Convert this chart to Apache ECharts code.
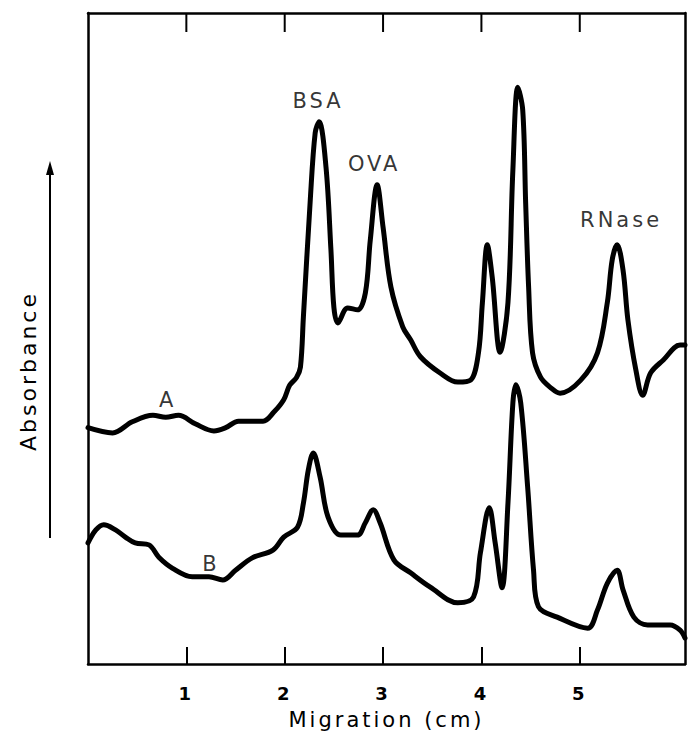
<!DOCTYPE html>
<html>
<head>
<meta charset="utf-8">
<script src="https://cdn.jsdelivr.net/npm/echarts@6/dist/echarts.min.js"></script>
<style>
  html, body { margin: 0; padding: 0; background: #fff; }
  #chart { width: 693px; height: 734px; }
  /* the scan's lettering is widely tracked */
  #chart text { letter-spacing: 3px; }
</style>
</head>
<body>
<div id="chart"></div>
<script>
// migration (cm) vs absorbance (arbitrary units)
var traceA = [
    [0, 36.3], [0.25, 35.5], [0.45, 37.2], [0.66, 38.2], [0.79, 37.9], [0.92, 38.2],
    [1.09, 36.9], [1.28, 35.8], [1.40, 36.3], [1.53, 37.3], [1.78, 37.3], [1.89, 38.7],
    [1.99, 40.6], [2.05, 42.8], [2.12, 44.0], [2.16, 45.6], [2.19, 53.3], [2.26, 71.3],
    [2.31, 81.6], [2.35, 83.3], [2.42, 76.3], [2.47, 63.6], [2.50, 54.8], [2.54, 52.4],
    [2.64, 54.7], [2.74, 54.4], [2.82, 57.0], [2.87, 65.1], [2.94, 73.6], [3.00, 67.1],
    [3.08, 57.9], [3.20, 51.8], [3.28, 49.8], [3.38, 47.2], [3.58, 44.7], [3.76, 43.3],
    [3.89, 43.6], [3.97, 47.8], [4.01, 55.5], [4.06, 64.4], [4.11, 59.4], [4.19, 47.9],
    [4.27, 55.5], [4.32, 75.9], [4.37, 88.6], [4.42, 85.1], [4.45, 70.8], [4.48, 57.9],
    [4.52, 47.8], [4.60, 44.1], [4.70, 42.5], [4.80, 41.6], [5.01, 43.6], [5.18, 47.8],
    [5.28, 55.5], [5.33, 62.1], [5.38, 64.4], [5.44, 60.5], [5.49, 52.8], [5.57, 45.2],
    [5.64, 41.3], [5.72, 44.7], [5.85, 46.7], [6.02, 49.0], [6.07, 49.0]
];
var traceB = [
    [0, 18.6], [0.08, 20.6], [0.16, 21.4], [0.28, 20.6], [0.38, 19.5], [0.48, 18.6],
    [0.62, 18.3], [0.72, 16.4], [0.86, 14.7], [1.06, 13.4], [1.23, 13.4], [1.37, 12.9],
    [1.50, 14.4], [1.67, 16.3], [1.88, 17.5], [1.99, 19.5], [2.13, 21.0], [2.19, 24.7],
    [2.24, 29.8], [2.29, 32.4], [2.36, 28.7], [2.44, 22.6], [2.57, 19.8], [2.74, 19.8],
    [2.82, 21.7], [2.90, 23.7], [2.97, 21.7], [3.11, 16.0], [3.28, 14.0], [3.48, 11.8],
    [3.76, 9.4], [3.92, 10.3], [3.99, 17.1], [4.08, 24.0], [4.14, 18.6], [4.21, 11.7],
    [4.27, 24.7], [4.32, 40.1], [4.35, 42.9], [4.40, 40.1], [4.47, 27.2], [4.53, 14.4],
    [4.58, 8.8], [4.77, 7.2], [5.08, 5.5], [5.18, 8.3], [5.28, 12.4], [5.38, 14.4],
    [5.44, 11.4], [5.55, 7.2], [5.69, 6.0], [5.92, 6.0], [6.02, 5.2], [6.07, 4.0]
];
// peak / trace labels: [text, x, y]
var notes = [
    ['BSA', 2.34, 86.5], ['OVA', 2.91, 76.8], ['RNase', 5.42, 68.2],
    ['A', 0.81, 40.6], ['B', 1.25, 15.4]
];
var xTicks = [1, 2, 3, 4, 5];
var xMax = 6.07;

var font = 'DejaVu Sans';
var gridBox = { left: 88, top: 13, right: 8, bottom: 70 };
var chart = echarts.init(document.getElementById('chart'), null, { renderer: 'svg' });

var boxLine = { show: true, onZero: false, lineStyle: { color: '#000', width: 2.5 } };

var option = {
    animation: false,
    backgroundColor: '#fff',
    grid: { left: gridBox.left, top: gridBox.top, right: gridBox.right, bottom: gridBox.bottom,
        outerBoundsMode: 'none' },
    xAxis: [{
        type: 'value', min: 0, max: xMax, position: 'bottom',
        axisLine: boxLine,
        axisTick: { show: true, inside: true, length: 17, customValues: xTicks,
            lineStyle: { color: '#000', width: 2 } },
        axisLabel: { show: true, customValues: xTicks, margin: 20,
            color: '#000', fontSize: 18, fontFamily: font, fontWeight: 'bold' },
        splitLine: { show: false },
        name: 'Migration (cm)', nameLocation: 'middle', nameGap: 45,
        nameTextStyle: { color: '#000', fontSize: 21, fontFamily: font }
    }, {
        type: 'value', min: 0, max: xMax, position: 'top',
        axisLine: boxLine,
        axisTick: { show: false }, axisLabel: { show: false }, splitLine: { show: false }
    }],
    yAxis: [{
        type: 'value', min: 0, max: 100, position: 'left',
        axisLine: boxLine,
        axisTick: { show: false }, axisLabel: { show: false }, splitLine: { show: false }
    }, {
        type: 'value', min: 0, max: 100, position: 'right',
        axisLine: boxLine,
        axisTick: { show: false }, axisLabel: { show: false }, splitLine: { show: false }
    }],
    series: [{
        name: 'A', type: 'line', data: traceA, smooth: 0.35, symbol: 'none',
        lineStyle: { color: '#000', width: 5, join: 'round', cap: 'round' }
    }, {
        name: 'B', type: 'line', data: traceB, smooth: 0.35, symbol: 'none',
        lineStyle: { color: '#000', width: 5, join: 'round', cap: 'round' }
    }, {
        // same scale as the main axes, sits on the top/right pair
        type: 'scatter', xAxisIndex: 1, yAxisIndex: 1, symbolSize: 0, silent: true,
        data: notes.map(function (n) { return { name: n[0], value: [n[1], n[2]] }; }),
        label: { show: true, position: [0, 0], align: 'center', verticalAlign: 'middle',
            formatter: '{b}', color: '#000', fontSize: 21, fontFamily: font }
    }]
};

// y-axis caption with its arrow, plus the ticks hanging from the top frame
var decor = [{
    type: 'text', x: 28, y: 371, rotation: Math.PI / 2,
    style: { text: 'Absorbance', fill: '#000', fontSize: 22, fontFamily: font,
        align: 'center', verticalAlign: 'middle' }
}, {
    type: 'line', shape: { x1: 50, y1: 538, x2: 50, y2: 170 },
    style: { stroke: '#000', lineWidth: 2 }
}, {
    type: 'polygon', shape: { points: [[50, 161], [46, 175], [54, 175]] },
    style: { fill: '#000' }
}];
var plotW = 693 - gridBox.left - gridBox.right;
xTicks.forEach(function (v) {
    var px = gridBox.left + v / xMax * plotW;
    decor.push({
        type: 'line', z: 100,
        shape: { x1: px, y1: gridBox.top, x2: px, y2: gridBox.top + 19 },
        style: { stroke: '#000', lineWidth: 2 }
    });
});
option.graphic = decor;

chart.setOption(option);
</script>
</body>
</html>
